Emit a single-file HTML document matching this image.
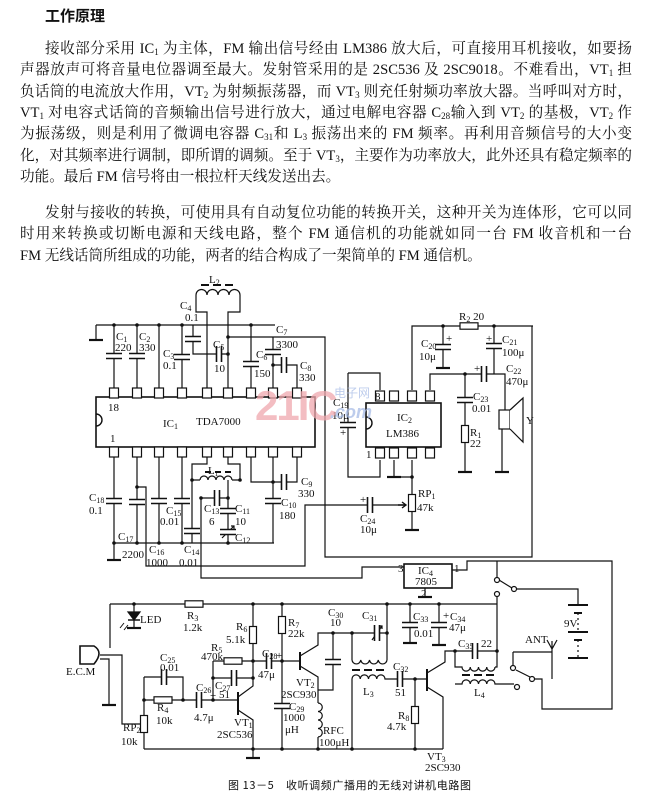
<!DOCTYPE html>
<html><head><meta charset="utf-8">
<style>
html,body{margin:0;padding:0;background:#fff;}
body{width:648px;height:808px;position:relative;overflow:hidden;font-family:"Liberation Serif","Noto Serif CJK SC",serif;color:#111;}
.l{position:absolute;left:20px;width:612px;font-size:14.6px;line-height:18px;white-space:nowrap;text-align:justify;text-align-last:justify;}
.l.i{left:45px;width:587px;}
.l.n{text-align-last:left;}
sub{font-size:9px;vertical-align:-2px;line-height:0;}
svg{position:absolute;left:0;top:0;}
svg text{font-family:"Liberation Serif","Noto Serif CJK SC",serif;font-size:11px;fill:#111;}
</style></head><body>
<div style="position:absolute;left:45px;top:5px;font-size:15px;font-weight:bold;font-family:'Liberation Sans','Noto Sans CJK SC',sans-serif;">工作原理</div>
<div class="l i" style="top:40px">接收部分采用 IC<sub>1</sub> 为主体，FM 输出信号经由 LM386 放大后，可直接用耳机接收，如要扬</div>
<div class="l" style="top:61px">声器放声可将音量电位器调至最大。发射管采用的是 2SC536 及 2SC9018。不难看出，VT<sub>1</sub> 担</div>
<div class="l" style="top:83px">负话筒的电流放大作用，VT<sub>2</sub> 为射频振荡器，而 VT<sub>3</sub> 则充任射频功率放大器。当呼叫对方时，</div>
<div class="l" style="top:104px">VT<sub>1</sub> 对电容式话筒的音频输出信号进行放大，通过电解电容器 C<sub>28</sub>输入到 VT<sub>2</sub> 的基极，VT<sub>2</sub> 作</div>
<div class="l" style="top:125px">为振荡级，则是利用了微调电容器 C<sub>31</sub>和 L<sub>3</sub> 振荡出来的 FM 频率。再利用音频信号的大小变</div>
<div class="l" style="top:147px">化，对其频率进行调制，即所谓的调频。至于 VT<sub>3</sub>，主要作为功率放大，此外还具有稳定频率的</div>
<div class="l n" style="top:168px">功能。最后 FM 信号将由一根拉杆天线发送出去。</div>
<div class="l i" style="top:204px">发射与接收的转换，可使用具有自动复位功能的转换开关，这种开关为连体形，它可以同</div>
<div class="l" style="top:225px">时用来转换或切断电源和天线电路，整个 FM 通信机的功能就如同一台 FM 收音机和一台</div>
<div class="l n" style="top:247px">FM 无线话筒所组成的功能，两者的结合构成了一架简单的 FM 通信机。</div>

<svg width="648" height="808" viewBox="0 0 648 808">
<defs>
<g id="cv"><rect x="-8" y="-3" width="16" height="6" fill="#fff" stroke="none"/><path d="M-8 -2.5h16M-8 2.5h16" stroke-width="1.6"/></g>
<g id="ch"><rect x="-3" y="-8" width="6" height="16" fill="#fff" stroke="none"/><path d="M-2.5 -8v16M2.5 -8v16" stroke-width="1.6"/></g>
<rect id="rv" x="-3.5" y="-8.5" width="7" height="17" fill="#fff"/>
<rect id="rh" x="-9" y="-3.2" width="18" height="6.4" fill="#fff"/>
<path id="gd" d="M-7 0h14" stroke-width="2.2"/>
<rect id="pn" x="-4.5" y="0" width="9" height="10" fill="#fff"/>
</defs>

<g fill="none" stroke="#111" stroke-width="1.2">
<path d="M96 325H275M96 325V340M114 325V388M137 325V388M159 325V388M182 325V388M193 325V354H228"/>
<path d="M207 388V312H196V295M240 295V312H228V388M228 337H325V557H532V326M251 325V388M273 337V388M273 365H297V388"/>
<path d="M196 295a5.5 5.5 0 0 1 11 0a5.5 5.5 0 0 1 11 0a5.5 5.5 0 0 1 11 0a5.5 5.5 0 0 1 11 0"/>
<path d="M201 285h8M213 285h8M225 285h8" stroke-width="2"/>
<path d="M114 457V560M114 543H274M137 457V543M137 487H146V566H305V505H405M159 457V543M182 457V543"/>
<path d="M207 457V464H192V498V543M228 457V464H240V480M192 480H200M232 480H240M228 480V543M200 498H228M201 498V578H362V567H404"/>
<path d="M200 480a4 4 0 0 1 8 0a4 4 0 0 1 8 0a4 4 0 0 1 8 0a4 4 0 0 1 8 0"/>
<path d="M205 472h6M215 472h6M225 472h6" stroke-width="2"/>
<path d="M251 457V482H297V457M273 457V543"/>
<path d="M222 538L234 526M231 526l3 0l0 3"/>
<rect x="96" y="397" width="219" height="50" fill="#fff" stroke-width="1.6"/>
<path d="M96 414a6 6 0 0 1 0 12" stroke-width="1.4"/>
<path d="M348 373H380V390M348 373V477H380V460M394 460V477H412M412 460V530M412 390V326H533M443 326V368M494 326V374M430 390V374H505V410M465 374V472M502 429V472"/>
<rect x="366" y="403" width="75" height="44" fill="#fff" stroke-width="1.6"/>
<path d="M366 417a6 6 0 0 1 0 12" stroke-width="1.4"/>
<rect x="499" y="410" width="11" height="19" fill="#fff"/>
<path d="M510 410L523 398V442L510 429" fill="#fff"/>
<path d="M398 505l7 0M402 502l4 3l-4 3" stroke-width="1.4"/>
<rect x="404" y="564" width="48" height="24" fill="#fff" stroke-width="1.6"/>
<path d="M425 588V597M452 570H467V561H612V709H542V679H535M497 561V578M499 580L512 588M516 589H578V605M497 597V604"/>
<path d="M568 605h20M574 613h8M568 632h20M574 640h8M568 658h20" stroke-width="2"/>
<path d="M578 613V632M578 640V658" stroke-dasharray="2 3"/>
<path d="M110 604H497M110 604V648M100 659H109V705M100 655H122V724H140M134 604V612M134 620V627"/>
<path d="M80 646H94Q104 652 94 664H80Z" fill="#fff" stroke-width="1.6"/>
<path d="M128 612h12l-6 8z" fill="#111"/><path d="M128 620h12M128 628h12" stroke-width="1.6"/>
<path d="M120 628l4-5M124 630l4-5" stroke-width="1"/>
<path d="M253 604V678M282 604V749M213 661H300M213 661V700M213 678H253M144 677V749M144 677H183V700M144 700H238"/>
<path d="M238 692V715" stroke-width="2"/>
<path d="M238 697L253 686V678M238 710L253 720V758M144 749H443"/>
<path d="M300 652V670" stroke-width="2"/>
<path d="M300 656L318 645V633H388M300 666L318 677V690H333V633M318 690V703M318 737V749"/>
<path d="M318 703a4.2 4.2 0 0 1 0 8.5a4.2 4.2 0 0 1 0 8.5a4.2 4.2 0 0 1 0 8.5a4.2 4.2 0 0 1 0 8.5"/>
<path d="M352 633V660M387 604V660M352 660a4.4 4.4 0 0 0 8.75 0a4.4 4.4 0 0 0 8.75 0a4.4 4.4 0 0 0 8.75 0a4.4 4.4 0 0 0 8.75 0"/>
<path d="M352 670h8M364 670h8M376 670h8" stroke-width="2"/>
<path d="M352 749V679a4.1 4.1 0 0 1 8.25 0a4.1 4.1 0 0 1 8.25 0a4.1 4.1 0 0 1 8.25 0a4.1 4.1 0 0 1 8.25 0H427M415 679V749"/>
<path d="M427 669V691" stroke-width="2"/>
<path d="M427 673L445 662V651H497M427 687L443 697V749M410 604V643M439 604V645M497 604V667H495"/>
<path d="M455 651V667H462a4.1 4.1 0 0 0 8.25 0a4.1 4.1 0 0 0 8.25 0a4.1 4.1 0 0 0 8.25 0a4.1 4.1 0 0 0 8.25 0"/>
<path d="M462 675h8M474 675h8M486 675h8" stroke-width="2"/>
<path d="M455 684H462a4.1 4.1 0 0 1 8.25 0a4.1 4.1 0 0 1 8.25 0a4.1 4.1 0 0 1 8.25 0a4.1 4.1 0 0 1 8.25 0H514"/>
<path d="M513 652H552M513 652V665M516 670L530 677M552 679V641M547 640L552 649L557 640"/>
<path d="M372 640L382 626M379 626l3 0l0 3"/>
</g>
<g fill="#fff" stroke="#111" stroke-width="1.2">
<circle cx="497" cy="580" r="2.5"/><circle cx="514" cy="589" r="2.5"/><circle cx="497" cy="594" r="2.5"/>
<circle cx="517" cy="687" r="2.5"/><circle cx="513" cy="668" r="2.5"/><circle cx="532" cy="679" r="2.5"/>
</g>
<g fill="#fff" stroke="#111" stroke-width="1.2">
<use href="#pn" x="114" y="388"/><use href="#pn" x="137" y="388"/><use href="#pn" x="159" y="388"/><use href="#pn" x="182" y="388"/><use href="#pn" x="207" y="388"/><use href="#pn" x="228" y="388"/><use href="#pn" x="251" y="388"/><use href="#pn" x="273" y="388"/><use href="#pn" x="297" y="388"/>
<use href="#pn" x="114" y="447"/><use href="#pn" x="137" y="447"/><use href="#pn" x="159" y="447"/><use href="#pn" x="182" y="447"/><use href="#pn" x="207" y="447"/><use href="#pn" x="228" y="447"/><use href="#pn" x="251" y="447"/><use href="#pn" x="273" y="447"/><use href="#pn" x="297" y="447"/>
<use href="#pn" x="380" y="391"/><use href="#pn" x="394" y="391"/><use href="#pn" x="412" y="391"/><use href="#pn" x="430" y="391"/>
<use href="#pn" x="380" y="448"/><use href="#pn" x="394" y="448"/><use href="#pn" x="412" y="448"/><use href="#pn" x="430" y="448"/>
<use href="#cv" x="114" y="356"/><use href="#cv" x="137" y="356"/><use href="#cv" x="182" y="357"/><use href="#cv" x="193" y="339"/><use href="#ch" x="219" y="354"/><use href="#cv" x="251" y="364"/><use href="#cv" x="273" y="352"/><use href="#ch" x="284" y="365"/>
<use href="#cv" x="114" y="501"/><use href="#cv" x="137" y="502"/><use href="#cv" x="159" y="501"/><use href="#cv" x="182" y="501"/><use href="#cv" x="192" y="531"/><use href="#ch" x="217" y="498"/><use href="#cv" x="228" y="511"/><use href="#cv" x="228" y="532"/><use href="#ch" x="284" y="482"/><use href="#cv" x="273" y="501"/>
<use href="#cv" x="348" y="425"/><use href="#ch" x="370" y="505"/><use href="#rv" x="412" y="503"/><use href="#rh" x="469" y="326"/><use href="#cv" x="443" y="347"/><use href="#cv" x="494" y="346"/><use href="#ch" x="484" y="374"/><use href="#cv" x="465" y="400"/><use href="#rv" x="465" y="434"/>
<use href="#rh" x="194" y="604"/><use href="#rv" x="253" y="635"/><use href="#rv" x="282" y="625"/><use href="#rh" x="233" y="661"/><use href="#ch" x="234" y="678"/><use href="#ch" x="269" y="661"/><use href="#ch" x="164" y="677"/><use href="#rh" x="163" y="700"/><use href="#ch" x="199" y="700"/><use href="#rv" x="144" y="724"/>
<use href="#cv" x="282" y="706"/><use href="#cv" x="333" y="662"/><use href="#ch" x="377" y="633"/><use href="#ch" x="400" y="679"/><use href="#rv" x="415" y="715"/><use href="#cv" x="410" y="625"/><use href="#cv" x="439" y="625"/><use href="#ch" x="475" y="651"/>
</g>
<g stroke="#111">
<use href="#gd" x="96" y="340"/><use href="#gd" x="114" y="560"/><use href="#gd" x="394" y="477"/><use href="#gd" x="412" y="530"/><use href="#gd" x="443" y="368"/><use href="#gd" x="465" y="472"/><use href="#gd" x="502" y="472"/><use href="#gd" x="425" y="597"/>
<use href="#gd" x="109" y="705"/><use href="#gd" x="253" y="758"/><use href="#gd" x="410" y="643"/><use href="#gd" x="439" y="645"/><use href="#gd" x="134" y="628"/>
</g>
<g fill="#111">
<circle cx="114" cy="325" r="1.8"/><circle cx="137" cy="325" r="1.8"/><circle cx="159" cy="325" r="1.8"/><circle cx="182" cy="325" r="1.8"/><circle cx="228" cy="337" r="1.8"/><circle cx="228" cy="354" r="1.8"/><circle cx="251" cy="325" r="1.8"/><circle cx="273" cy="365" r="1.8"/>
<circle cx="137" cy="487" r="1.8"/><circle cx="192" cy="480" r="1.8"/><circle cx="240" cy="480" r="1.8"/><circle cx="228" cy="498" r="1.8"/><circle cx="201" cy="498" r="1.8"/><circle cx="114" cy="543" r="1.8"/><circle cx="137" cy="543" r="1.8"/><circle cx="159" cy="543" r="1.8"/><circle cx="182" cy="543" r="1.8"/><circle cx="228" cy="543" r="1.8"/><circle cx="273" cy="482" r="1.8"/>
<circle cx="443" cy="326" r="1.8"/><circle cx="494" cy="326" r="1.8"/><circle cx="465" cy="374" r="1.8"/><circle cx="412" cy="477" r="1.8"/>
<circle cx="134" cy="604" r="1.8"/><circle cx="253" cy="604" r="1.8"/><circle cx="282" cy="604" r="1.8"/><circle cx="253" cy="661" r="1.8"/><circle cx="253" cy="678" r="1.8"/><circle cx="282" cy="661" r="1.8"/><circle cx="213" cy="678" r="1.8"/><circle cx="144" cy="700" r="1.8"/><circle cx="183" cy="700" r="1.8"/><circle cx="213" cy="700" r="1.8"/><circle cx="253" cy="749" r="1.8"/><circle cx="282" cy="749" r="1.8"/>
<circle cx="333" cy="633" r="1.8"/><circle cx="352" cy="633" r="1.8"/><circle cx="387" cy="633" r="1.8"/><circle cx="387" cy="604" r="1.8"/><circle cx="410" cy="604" r="1.8"/><circle cx="439" cy="604" r="1.8"/><circle cx="415" cy="679" r="1.8"/><circle cx="455" cy="651" r="1.8"/><circle cx="497" cy="651" r="1.8"/><circle cx="318" cy="749" r="1.8"/><circle cx="352" cy="749" r="1.8"/><circle cx="415" cy="749" r="1.8"/>
</g>
<g>
<text x="209" y="283">L<tspan font-size="8" dy="2">2</tspan></text>
<text x="180" y="309">C<tspan font-size="8" dy="2">4</tspan></text><text x="185" y="321">0.1</text>
<text x="116" y="340">C<tspan font-size="8" dy="2">1</tspan></text><text x="115" y="351">220</text>
<text x="139" y="340">C<tspan font-size="8" dy="2">2</tspan></text><text x="139" y="351">330</text>
<text x="163" y="357">C<tspan font-size="8" dy="2">3</tspan></text><text x="163" y="369">0.1</text>
<text x="213" y="348">C<tspan font-size="8" dy="2">5</tspan></text><text x="214" y="372">10</text>
<text x="256" y="358">C<tspan font-size="8" dy="2">6</tspan></text><text x="254" y="377">150</text>
<text x="276" y="333">C<tspan font-size="8" dy="2">7</tspan></text><text x="276" y="348">3300</text>
<text x="300" y="369">C<tspan font-size="8" dy="2">8</tspan></text><text x="299" y="381">330</text>
<text x="108" y="411">18</text><text x="110" y="442">1</text>
<text x="163" y="427" font-size="12">IC<tspan font-size="8" dy="2">1</tspan></text><text x="196" y="425" font-size="12">TDA7000</text>
<text x="89" y="501">C<tspan font-size="8" dy="2">18</tspan></text><text x="89" y="514">0.1</text>
<text x="118" y="540">C<tspan font-size="8" dy="2">17</tspan></text><text x="122" y="558">2200</text>
<text x="149" y="553">C<tspan font-size="8" dy="2">16</tspan></text><text x="146" y="566">1000</text>
<text x="166" y="514">C<tspan font-size="8" dy="2">15</tspan></text><text x="160" y="525">0.01</text>
<text x="184" y="553">C<tspan font-size="8" dy="2">14</tspan></text><text x="179" y="566">0.01</text>
<text x="204" y="512">C<tspan font-size="8" dy="2">13</tspan></text><text x="209" y="525">6</text>
<text x="235" y="512">C<tspan font-size="8" dy="2">11</tspan></text><text x="235" y="525">10</text>
<text x="235" y="541">C<tspan font-size="8" dy="2">12</tspan></text>
<text x="301" y="485">C<tspan font-size="8" dy="2">9</tspan></text><text x="298" y="497">330</text>
<text x="281" y="506">C<tspan font-size="8" dy="2">10</tspan></text><text x="279" y="519">180</text>
<text x="208" y="474" font-size="9">L<tspan font-size="7" dy="2">1</tspan></text>
<text x="375" y="400">8</text><text x="366" y="458">1</text>
<text x="397" y="421" font-size="12">IC<tspan font-size="8" dy="2">2</tspan></text><text x="386" y="437" font-size="12">LM386</text>
<text x="333" y="406">C<tspan font-size="8" dy="2">19</tspan></text><text x="332" y="419">10μ</text><text x="340" y="436">+</text>
<text x="459" y="320">R<tspan font-size="8" dy="2">2</tspan><tspan dy="-2"> 20</tspan></text>
<text x="421" y="347">C<tspan font-size="8" dy="2">20</tspan></text><text x="419" y="360">10μ</text><text x="446" y="342">+</text>
<text x="502" y="343">C<tspan font-size="8" dy="2">21</tspan></text><text x="502" y="356">100μ</text><text x="486" y="342">+</text>
<text x="506" y="372">C<tspan font-size="8" dy="2">22</tspan></text><text x="506" y="385">470μ</text><text x="474" y="372">+</text>
<text x="473" y="400">C<tspan font-size="8" dy="2">23</tspan></text><text x="472" y="412">0.01</text>
<text x="470" y="436">R<tspan font-size="8" dy="2">1</tspan></text><text x="470" y="447">22</text>
<text x="526" y="424">Y</text>
<text x="418" y="497">RP<tspan font-size="8" dy="2">1</tspan></text><text x="417" y="511">47k</text>
<text x="360" y="522">C<tspan font-size="8" dy="2">24</tspan></text><text x="360" y="533">10μ</text><text x="360" y="503">+</text>
<text x="398" y="572">3</text><text x="454" y="572">1</text><text x="421" y="597" font-size="9">2</text>
<text x="418" y="574">IC<tspan font-size="8" dy="2">4</tspan></text><text x="415" y="585">7805</text>
<text x="140" y="623">LED</text>
<text x="187" y="619">R<tspan font-size="8" dy="2">3</tspan></text><text x="183" y="631">1.2k</text>
<text x="236" y="630">R<tspan font-size="8" dy="2">6</tspan></text><text x="226" y="643">5.1k</text>
<text x="288" y="626">R<tspan font-size="8" dy="2">7</tspan></text><text x="288" y="637">22k</text>
<text x="211" y="651">R<tspan font-size="8" dy="2">5</tspan></text><text x="201" y="660">470k</text>
<text x="160" y="661">C<tspan font-size="8" dy="2">25</tspan></text><text x="160" y="671">0.01</text>
<text x="215" y="689">C<tspan font-size="8" dy="2">27</tspan></text><text x="219" y="698">51</text>
<text x="262" y="657">C<tspan font-size="8" dy="2">28</tspan></text><text x="258" y="678">47μ</text><text x="276" y="659">+</text>
<text x="196" y="691">C<tspan font-size="8" dy="2">26</tspan></text><text x="194" y="721">4.7μ</text><text x="210" y="699">+</text>
<text x="157" y="711">R<tspan font-size="8" dy="2">4</tspan></text><text x="156" y="724">10k</text>
<text x="123" y="731">RP<tspan font-size="8" dy="2">2</tspan></text><text x="121" y="745">10k</text>
<text x="66" y="675">E.C.M</text>
<text x="234" y="726">VT<tspan font-size="8" dy="2">1</tspan></text><text x="217" y="738">2SC536</text>
<text x="296" y="686">VT<tspan font-size="8" dy="2">2</tspan></text><text x="281" y="698">2SC930</text>
<text x="289" y="710">C<tspan font-size="8" dy="2">29</tspan></text><text x="283" y="721">1000</text><text x="285" y="733">μH</text>
<text x="323" y="734">RFC</text><text x="319" y="746">100μH</text>
<text x="328" y="616">C<tspan font-size="8" dy="2">30</tspan></text><text x="330" y="626">10</text>
<text x="362" y="619">C<tspan font-size="8" dy="2">31</tspan></text>
<text x="363" y="695">L<tspan font-size="8" dy="2">3</tspan></text>
<text x="393" y="670">C<tspan font-size="8" dy="2">32</tspan></text><text x="395" y="696">51</text>
<text x="398" y="719">R<tspan font-size="8" dy="2">8</tspan></text><text x="387" y="730">4.7k</text>
<text x="413" y="620">C<tspan font-size="8" dy="2">33</tspan></text><text x="414" y="637">0.01</text>
<text x="450" y="620">C<tspan font-size="8" dy="2">34</tspan></text><text x="449" y="631">47μ</text><text x="443" y="619">+</text>
<text x="458" y="647">C<tspan font-size="8" dy="2">35</tspan></text><text x="481" y="647">22</text>
<text x="474" y="696">L<tspan font-size="8" dy="2">4</tspan></text>
<text x="525" y="643">ANT</text><text x="564" y="627">9V</text>
<text x="427" y="760">VT<tspan font-size="8" dy="2">3</tspan></text><text x="425" y="771">2SC930</text>
</g>
<!-- watermark on top -->
<g opacity="0.75">
<text x="255" y="420" style="font-family:'Liberation Sans',sans-serif;font-size:42px;font-weight:bold;fill:#f0a8ae;letter-spacing:-2px">21IC</text>
<text x="334" y="397" style="font-family:'Noto Sans CJK SC',sans-serif;font-size:12px;fill:#a8bce6">电子网</text>
<text x="330" y="418" style="font-family:'Liberation Sans',sans-serif;font-size:18px;font-style:italic;font-weight:bold;fill:#a8bce6">.com</text>
</g>
<text x="228" y="789" style="font-family:'Noto Sans CJK SC',sans-serif;font-size:11px;letter-spacing:0.6px">图 13－5　收听调频广播用的无线对讲机电路图</text>
</svg>
</body></html>
